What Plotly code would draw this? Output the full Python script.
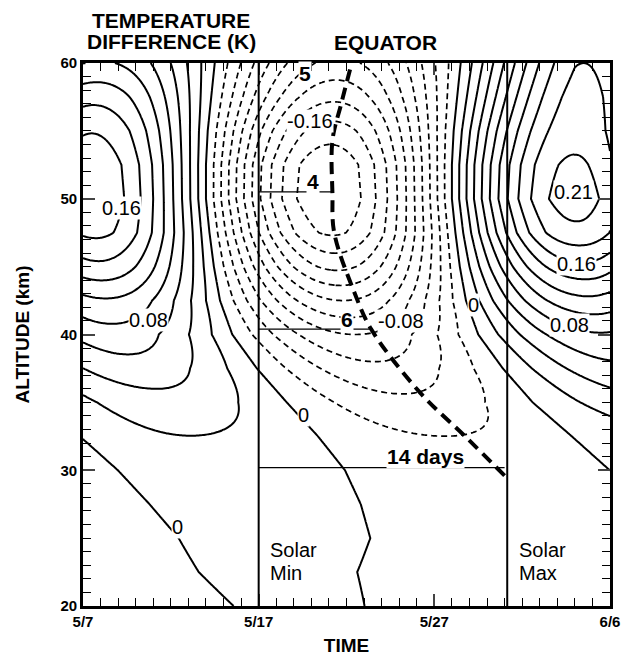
import numpy as np
import plotly.graph_objects as go

# Temperature response to the 27-day solar rotation at the equator.
# Vertical profiles of the oscillation (days counted from 5/7).
alt_km = [20, 22.5, 25, 27.5, 30, 32.5, 35, 37.5, 40, 42.5, 45, 47.5, 50, 52.5, 55, 57.5, 60]
# amplitude profiles (K): early (5/7), middle (5/17-5/27) and late (6/4) part of the window
amp_day = [0, 10, 20, 28, 30]
amp_early = [0.008, 0.009, 0.011, 0.013, 0.016, 0.024, 0.03, 0.05, 0.07, 0.095, 0.133, 0.163,
             0.175, 0.172, 0.158, 0.133, 0.10]
amp_middle = [0.008, 0.009, 0.011, 0.013, 0.016, 0.019, 0.035, 0.055, 0.08, 0.12, 0.165, 0.203,
              0.218, 0.215, 0.19, 0.155, 0.125]
amp_late = [0.008, 0.009, 0.011, 0.013, 0.016, 0.019, 0.035, 0.055, 0.078, 0.115, 0.155, 0.195,
            0.21, 0.203, 0.193, 0.188, 0.18]
warm_peak_day = [12.3, 11.1, 10.9, 9.8, 8.45, 6.6, 4.6, 2.9, 1.5, 0.8, 0.45, 0.2,
                 0.0, 0.0, 0.1, 0.3, 0.5]
offset_ratio = [-0.67, -0.53, -0.34, -0.22, -0.12, -0.05, 0.0, 0.0, 0.0, 0.0, 0.0, 0.0,
                0.0, 0.0, 0.0, 0.0, 0.0]
period_days = 28.0
contour_step = 0.02

# Phase of the cold extreme (thick dashed curve)
lag_day = [24.0, 21.75, 19.2, 16.4, 15.45, 14.3, 14.2, 14.2, 14.7, 15.3]
lag_alt = [29.6, 32.5, 35.7, 40.4, 43.1, 47.5, 50.4, 54.3, 57.0, 60.0]

solar_min_day = 10.0
solar_max_day = 24.15
# lag markers: altitude and end day
lag_marks_alt = [50.5, 40.4, 30.2]
lag_marks_end = [14.15, 16.3, 24.0]

tick_days = [0, 10, 20, 30]
tick_text = ["5/7", "5/17", "5/27", "6/6"]

t = np.linspace(0, 30, 301)
h = np.linspace(20, 60, 321)
amp_tab = np.array([amp_early, amp_middle, amp_middle, amp_late, amp_late])  # (time node, alt)
amp_on_h = np.array([np.interp(h, alt_km, row) for row in amp_tab])          # (time node, h)
A = np.array([np.interp(t, amp_day, amp_on_h[:, j]) for j in range(len(h))])  # (h, t)
tm = np.interp(h, alt_km, warm_peak_day)
ratio = np.interp(h, alt_km, offset_ratio)
Z = A * (np.cos(2 * np.pi * (t[None, :] - tm[:, None]) / period_days) + ratio[:, None])

black = [[0, "black"], [1, "black"]]
fig = go.Figure()
fig.add_trace(go.Contour(
    x=t, y=h, z=Z, autocontour=False,
    contours=dict(start=-12 * contour_step, end=-contour_step * 0.999, size=contour_step,
                  coloring="lines"),
    colorscale=black, showscale=False, line=dict(width=1.7, dash="6px,4px"),
    hoverinfo="skip"))
fig.add_trace(go.Contour(
    x=t, y=h, z=Z, autocontour=False,
    contours=dict(start=0, end=12 * contour_step, size=contour_step, coloring="lines"),
    colorscale=black, showscale=False, line=dict(width=2.0),
    hoverinfo="skip"))

fig.add_trace(go.Scatter(x=lag_day, y=lag_alt, mode="lines",
                         line=dict(color="black", width=4, dash="12px,7px", shape="spline"),
                         hoverinfo="skip"))

for xd in (solar_min_day, solar_max_day):
    fig.add_shape(type="line", x0=xd, x1=xd, y0=20, y1=60,
                  line=dict(color="black", width=2))
for ya, xe in zip(lag_marks_alt, lag_marks_end):
    fig.add_shape(type="line", x0=solar_min_day, x1=xe, y0=ya, y1=ya,
                  line=dict(color="black", width=1.3))

FAM = "Liberation Sans, Arial, sans-serif"
lab_font = dict(family=FAM, size=20, color="black")
bold_font = dict(family=FAM, size=21, color="black", weight="bold")

contour_labels = [
    (2.2, 49.3, "0.16"), (3.75, 41.1, "0.08"), (5.4, 25.8, "0"),
    (12.55, 34.1, "0"), (22.25, 42.2, "0"), (12.9, 55.7, "-0.16"),
    (18.1, 41.0, "-0.08"), (27.9, 50.5, "0.21"), (28.1, 45.2, "0.16"),
    (27.7, 40.7, "0.08"),
]
for xd, ya, s in contour_labels:
    fig.add_annotation(x=xd, y=ya, text=s, showarrow=False, font=lab_font,
                       bgcolor="white", borderpad=0)

lag_labels = [(13.1, 51.3, "4"), (15.0, 41.1, "6"), (12.65, 59.2, "5"), (19.5, 31.0, "14 days")]
for xd, ya, s in lag_labels:
    fig.add_annotation(x=xd, y=ya, text=s, showarrow=False, font=bold_font,
                       bgcolor="white", borderpad=0)

side_font = dict(family=FAM, size=20, color="black")
for xd, top, bottom in ((10.55, "Solar", "Min"), (24.7, "Solar", "Max")):
    fig.add_annotation(x=xd, y=24.1, text=top, showarrow=False, font=side_font,
                       xanchor="left")
    fig.add_annotation(x=xd, y=22.4, text=bottom, showarrow=False, font=side_font,
                       xanchor="left")

title_font = dict(family=FAM, size=21, color="black", weight="bold")
for xp, yp, s in ((0.1676, 1.078, "TEMPERATURE"), (0.1676, 1.0395, "DIFFERENCE (K)"),
                  (0.5735, 1.0377, "EQUATOR")):
    fig.add_annotation(xref="paper", yref="paper", x=xp, y=yp, text=s, xanchor="center",
                       yanchor="middle", showarrow=False, font=title_font)

tick_font = dict(family=FAM, size=15, color="black", weight="bold")
axis_title_font = dict(family=FAM, size=19, color="black", weight="bold")
common = dict(ticks="inside", ticklen=12, tickwidth=1.6, mirror="ticks", showline=True,
              linewidth=2.6, linecolor="black", showgrid=False, zeroline=False,
              tickfont=tick_font,
              minor=dict(ticks="inside", dtick=1, ticklen=8, tickwidth=1.4, tickcolor="black"))
fig.update_layout(
    width=631, height=664, margin=dict(l=83, r=11, t=63, b=57),
    paper_bgcolor="white", plot_bgcolor="white", showlegend=False,
    xaxis=dict(range=[0, 30], tickvals=tick_days, ticktext=tick_text,
               title=dict(text="TIME", font=axis_title_font, standoff=10), **common),
    yaxis=dict(range=[20, 60], tickvals=[20, 30, 40, 50, 60],
               title=dict(text="ALTITUDE (km)", font=axis_title_font, standoff=26), **common),
)
fig.write_html("out.html")
